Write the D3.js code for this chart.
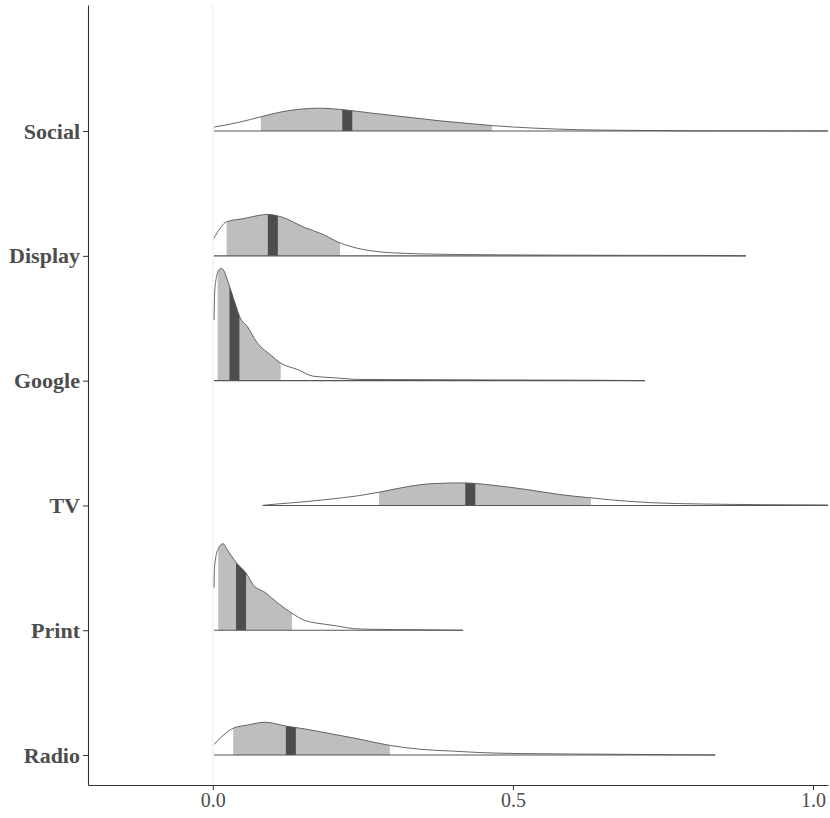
<!DOCTYPE html>
<html>
<head>
<meta charset="utf-8">
<script src="https://cdn.jsdelivr.net/npm/d3@7"></script>
<style>
  body { margin: 0; background: #fff; }
  svg { display: block; }
</style>
</head>
<body>
<div id="chart"></div>
<script>
// channels, bottom to top
const categories = ["Radio", "Print", "TV", "Google", "Display", "Social"];

// density: [x, density]
const radioDensity = [[0.002,1.07],[0.014,1.80],[0.034,2.70],[0.059,3.03],[0.087,3.30],[0.123,2.90],[0.153,2.63],[0.198,2.13],[0.242,1.63],[0.295,0.97],[0.348,0.57],[0.398,0.40],[0.445,0.25],[0.512,0.15],[0.667,0.08],[0.778,0.03],[0.837,0]];
const printDensity = [[0.002,4.3],[0.003,6.5],[0.009,8.2],[0.017,8.7],[0.025,8.0],[0.039,6.8],[0.056,5.7],[0.067,4.6],[0.087,3.8],[0.109,2.7],[0.132,1.7],[0.153,1.0],[0.187,0.6],[0.210,0.4],[0.233,0.17],[0.262,0.10],[0.345,0.05],[0.417,0]];
const tvDensity = [[0.083,0.0],[0.090,0.05],[0.133,0.27],[0.190,0.60],[0.245,1.00],[0.277,1.33],[0.328,1.93],[0.367,2.20],[0.417,2.27],[0.467,2.03],[0.523,1.60],[0.578,1.10],[0.628,0.77],[0.690,0.43],[0.733,0.27],[0.812,0.15],[0.912,0.08],[1.025,0.05],[1.100,0.02]];
const googleDensity = [[0.002,6.1],[0.003,8.8],[0.006,10.4],[0.008,10.9],[0.014,11.3],[0.018,11.1],[0.026,9.8],[0.037,7.8],[0.045,6.4],[0.058,5.4],[0.073,3.9],[0.098,2.5],[0.112,1.8],[0.142,1.1],[0.167,0.45],[0.200,0.3],[0.245,0.12],[0.345,0.1],[0.478,0.07],[0.645,0.04],[0.720,0]];
const displayDensity = [[0.002,1.77],[0.012,2.77],[0.023,3.43],[0.053,3.77],[0.075,4.05],[0.092,4.17],[0.115,3.90],[0.153,2.85],[0.182,2.20],[0.212,1.30],[0.242,0.75],[0.278,0.40],[0.320,0.25],[0.345,0.20],[0.478,0.10],[0.645,0.06],[0.812,0.04],[0.888,0]];
const socialDensity = [[0.002,0.40],[0.045,0.90],[0.080,1.43],[0.112,1.90],[0.145,2.20],[0.178,2.30],[0.217,2.15],[0.265,1.80],[0.320,1.43],[0.375,1.05],[0.428,0.75],[0.465,0.55],[0.533,0.30],[0.612,0.13],[0.678,0.08],[0.742,0.05],[0.800,0.02],[1.100,0]];
const densities = [radioDensity, printDensity, tvDensity, googleDensity, displayDensity, socialDensity];

// interval and median per channel
const lower  = [0.034, 0.009, 0.277, 0.008, 0.023, 0.080];
const upper  = [0.295, 0.132, 0.630, 0.113, 0.212, 0.465];
const median = [0.130, 0.047, 0.429, 0.036, 0.100, 0.224];

const xTicks = [0, 0.5, 1.0];

const width = 830, height = 818;
const margin = { top: 5, right: 2, bottom: 33, left: 88 };
const innerW = width - margin.left - margin.right;
const innerH = height - margin.top - margin.bottom;

const svg = d3.select("#chart").append("svg")
  .attr("width", width)
  .attr("height", height);

const x = d3.scaleLinear().domain([-0.208, 1.025]).range([0, innerW]);
const y = d3.scaleLinear().domain([0.76, 7.01]).range([innerH, 0]);
const band = y(1) - y(2);
const maxD = d3.max(densities, s => d3.max(s, d => d[1]));
const h = d3.scaleLinear().domain([0, maxD]).range([0, 0.9 * band]);

const g = svg.append("g").attr("transform", `translate(${margin.left},${margin.top})`);

const defs = svg.append("defs");
defs.append("clipPath").attr("id", "panel")
  .append("rect").attr("width", innerW).attr("height", innerH);

const panel = g.append("g").attr("clip-path", "url(#panel)");

// zero reference line
panel.append("line")
  .attr("x1", x(0)).attr("x2", x(0))
  .attr("y1", 0).attr("y2", innerH)
  .attr("stroke", "#ebebeb").attr("stroke-width", 1);

categories.forEach((cat, i) => {
  const base = y(i + 1);
  const pts = densities[i];
  const area = d3.area()
    .x(d => x(d[0]))
    .y0(base)
    .y1(d => base - h(d[1]))
    .curve(d3.curveMonotoneX);
  const line = d3.line()
    .x(d => x(d[0]))
    .y(d => base - h(d[1]))
    .curve(d3.curveMonotoneX);

  // slab shape used to clip the interval fills
  const id = "slab" + i;
  defs.append("clipPath").attr("id", id)
    .append("path").attr("d", area(pts));

  const slab = panel.append("g");
  const inner = slab.append("g").attr("clip-path", `url(#${id})`);

  inner.append("rect")
    .attr("x", x(lower[i]))
    .attr("width", x(upper[i]) - x(lower[i]))
    .attr("y", base - 0.95 * band)
    .attr("height", 0.95 * band)
    .attr("fill", "#bebebe");

  inner.append("rect")
    .attr("x", x(median[i]) - 5)
    .attr("width", 10)
    .attr("y", base - 0.95 * band)
    .attr("height", 0.95 * band)
    .attr("fill", "#4d4d4d");

  slab.append("path")
    .attr("d", line(pts))
    .attr("fill", "none")
    .attr("stroke", "#555")
    .attr("stroke-width", 0.9);

  slab.append("line")
    .attr("x1", x(pts[0][0]))
    .attr("x2", x(pts[pts.length - 1][0]))
    .attr("y1", base).attr("y2", base)
    .attr("stroke", "#555")
    .attr("stroke-width", 1.1);
});

// axes
const yAxis = g.append("g")
  .call(d3.axisLeft(y)
    .tickValues(categories.map((c, i) => i + 1))
    .tickFormat((d, i) => categories[i])
    .tickSizeInner(5).tickSizeOuter(0).tickPadding(3));
yAxis.selectAll("text")
  .attr("font-family", "'Liberation Serif', 'Times New Roman', serif")
  .attr("font-weight", "bold")
  .attr("font-size", 22)
  .attr("fill", "#4d4d4d");

const xAxis = g.append("g")
  .attr("transform", `translate(0,${innerH})`)
  .call(d3.axisBottom(x)
    .tickValues(xTicks)
    .tickFormat(d3.format(".1f"))
    .tickSizeInner(5).tickSizeOuter(0).tickPadding(3));
xAxis.selectAll("text")
  .attr("font-family", "'Liberation Serif', 'Times New Roman', serif")
  .attr("font-size", 20)
  .attr("fill", "#4d4d4d");

[yAxis, xAxis].forEach(a => {
  a.select(".domain").attr("stroke", "#333").attr("stroke-width", 1.1);
  a.selectAll(".tick line").attr("stroke", "#333");
});
</script>
</body>
</html>
